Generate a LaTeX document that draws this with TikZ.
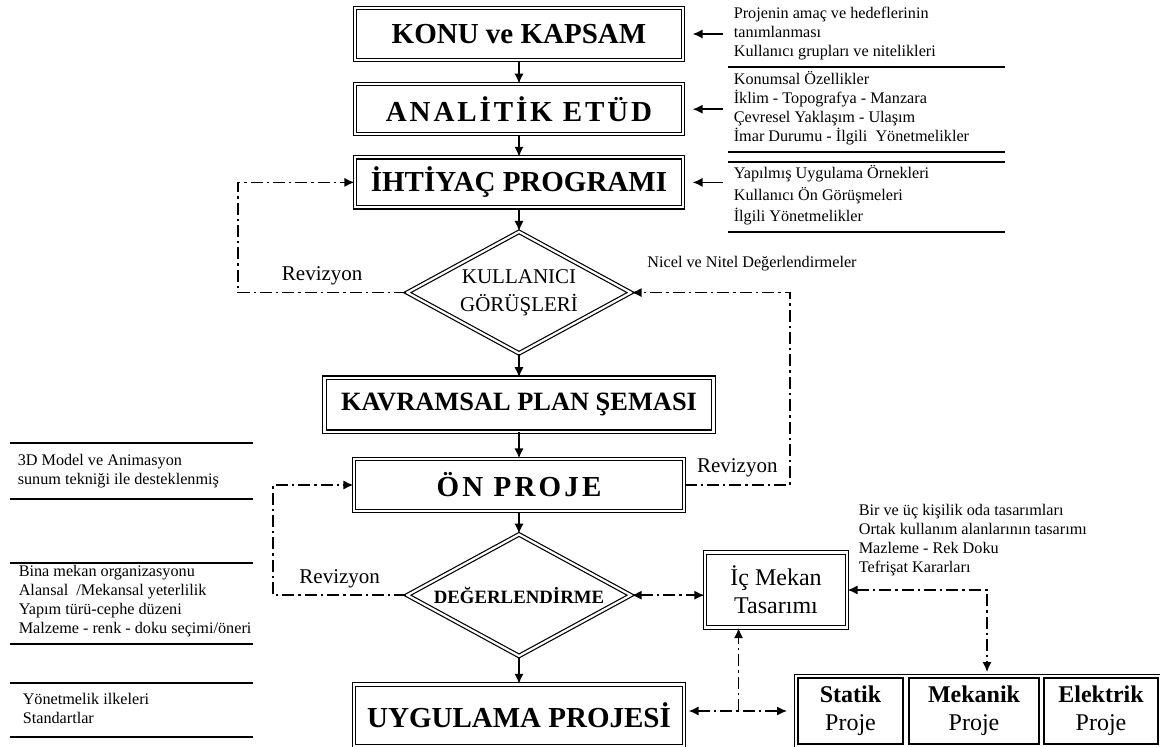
\documentclass[tikz,border=0pt]{standalone}
\usepackage{fontspec}
\setmainfont{Liberation Serif}
\usepackage{tikz}
\usetikzlibrary{shapes,arrows.meta}
\usetikzlibrary{positioning}
\tikzset{auto,>={Latex[length=5pt,width=4.6pt]}, node distance=1cm, font=\fontsize{8.1}{9.5}\selectfont}
\tikzstyle{stage} = [draw, double, double distance=1.1pt, line width=0.6pt, fill=white, rectangle, inner sep=0pt, text centered, align=center, minimum width=164pt, font=\fontsize{14.5}{16}\selectfont\bfseries]
\tikzstyle{decision} = [draw, double, double distance=1.1pt, line width=0.6pt, fill=white, diamond, aspect=1.85, inner sep=0pt, align=center, minimum width=112pt, minimum height=61pt, font=\fontsize{10.5}{14}\selectfont]
\tikzstyle{subbox} = [draw, line width=1pt, rectangle, inner sep=0pt, align=center, minimum height=33pt, font=\fontsize{12}{14}\selectfont]
\tikzstyle{note} = [inner sep=0pt, anchor=west, align=left]
\tikzstyle{tag} = [font=\fontsize{10.5}{12}\selectfont]
\tikzstyle{feedback} = [thick, dash pattern=on 6pt off 2pt on 1.2pt off 2pt]
\tikzstyle{rule} = [line width=0.6pt]

\begin{document}
\begin{tikzpicture}[x=0.5pt, y=-0.5pt, thick]
	\useasboundingbox (0,0) rectangle (1160,747);

	% main flow
	\node [stage, minimum height=26pt] at (519,34) (konu) {KONU ve KAPSAM};
	\node [stage, minimum height=25pt, below=11.5pt of konu] (analitik) {\addfontfeature{LetterSpace=10}ANALİTİK ETÜD};
	\node [stage, minimum height=25pt, below=11pt of analitik] (ihtiyac) {İHTİYAÇ PROGRAMI};
	\node [decision, below=11.5pt of ihtiyac] (kullanici) {KULLANICI\\GÖRÜŞLERİ};
	\node [stage, minimum width=194.5pt, minimum height=27pt, below=11.5pt of kullanici, font=\fontsize{13.2}{15}\selectfont\bfseries] (kavramsal) {KAVRAMSAL PLAN ŞEMASI};
	\node [stage, minimum width=165pt, minimum height=26pt, below=13pt of kavramsal] (onproje) {\addfontfeature{LetterSpace=11}ÖN PROJE};
	\node [decision, below=11pt of onproje, font=\fontsize{9.4}{11}\selectfont\bfseries] (degerlendirme) {DEĞERLENDİRME};
	\node [stage, minimum width=165pt, minimum height=31pt, below=13.5pt of degerlendirme] (uygulama) {UYGULAMA PROJESİ};

	% side boxes
	\node [stage, minimum width=71pt, minimum height=37.5pt, font=\fontsize{12}{14}\selectfont] at (776,590) (icmekan) {İç Mekan\\Tasarımı};
	\node [subbox, minimum width=52.5pt] at (850.5,711) (statik) {\textbf{Statik}\\Proje};
	\node [subbox, minimum width=65pt, right=2pt of statik] (mekanik) {\textbf{Mekanik}\\Proje};
	\node [subbox, minimum width=57pt, right=1.5pt of mekanik] (elektrik) {\textbf{Elektrik}\\Proje};

	% notes
	\node [note] at (733,34) (info1) {Projenin amaç ve hedeflerinin\\tanımlanması\\Kullanıcı grupları ve nitelikleri};
	\node [note] at (733,108) (info2) {Konumsal Özellikler\\İklim - Topografya - Manzara\\Çevresel Yaklaşım - Ulaşım\\İmar Durumu - İlgili~ Yönetmelikler};
	\node [note, font=\fontsize{8.1}{10.7}\selectfont] at (733,195.5) (info3) {Yapılmış Uygulama Örnekleri\\Kullanıcı Ön Görüşmeleri\\İlgili Yönetmelikler};
	\node [note] at (17,471) (model) {3D Model ve Animasyon\\sunum tekniği ile desteklenmiş};
	\node [note] at (18,601.5) (mekan) {Bina mekan organizasyonu\\Alansal~ /Mekansal yeterlilik\\Yapım türü-cephe düzeni\\Malzeme - renk - doku seçimi/öneri};
	\node [note] at (22,708) (yonet) {Yönetmelik ilkeleri\\Standartlar};
	\node [note] at (858,540) (odalar) {Bir ve üç kişilik oda tasarımları\\Ortak kullanım alanlarının tasarımı\\Mazleme - Rek Doku\\Tefrişat Kararları};

	\coordinate (lleft) at (238,0);
	\coordinate (lright) at (790,0);
	\coordinate (lleft2) at (273,0);
	\coordinate [xshift=6.5pt] (drop) at (mekanik.north);

	% rules
	\draw [rule] (728,67) -- (1005,67);
	\draw [rule] (728,152) -- (1005,152);
	\draw [rule] (728,162) -- (1005,162);
	\draw [rule] (728,232) -- (1005,232);
	\draw [rule] (10,443) -- (253,443);
	\draw [rule] (10,499) -- (253,499);
	\draw [rule] (10,563) -- (253,563);
	\draw [rule] (10,644) -- (253,644);
	\draw [rule] (10,683) -- (253,683);
	\draw [rule] (10,737) -- (253,737);
	\draw [line width=0.5pt] ([xshift=-1.5pt, yshift=1.5pt]statik.north west) rectangle ([xshift=1.5pt, yshift=-1.5pt]elektrik.south east);

	% flow arrows
	\draw [->] (konu) -- (analitik);
	\draw [->] (analitik) -- (ihtiyac);
	\draw [->] (ihtiyac) -- (kullanici);
	\draw [->] (kullanici) -- (kavramsal);
	\draw [->] (kavramsal) -- (onproje);
	\draw [->] (onproje) -- (degerlendirme);
	\draw [->] (degerlendirme) -- (uygulama);

	\draw [->, shorten <=5pt, shorten >=4.5pt] (info1.west |- konu.east) -- (konu.east);
	\draw [->, shorten <=5pt, shorten >=4.5pt] (info2.west |- analitik.east) -- (analitik.east);
	\draw [->, shorten <=5pt, shorten >=4.5pt] (info3.west |- ihtiyac.east) -- (ihtiyac.east);

	% revisions
	\draw [feedback, ->] (kullanici.west) -- node [above, tag] {Revizyon} (kullanici.west -| lleft) |- (ihtiyac.west);
	\draw [feedback, ->] (onproje.east) -- node [above, tag] {Revizyon} (onproje.east -| lright) |- node [pos=0.62, above=7pt] {Nicel ve Nitel Değerlendirmeler} (kullanici.east);
	\draw [feedback, ->] (degerlendirme.west) -- node [above, tag] {Revizyon} (degerlendirme.west -| lleft2) |- (onproje.west);

	\draw [feedback, <->] (degerlendirme.east) -- (icmekan.west |- degerlendirme.east);
	\draw [feedback, <->, shorten <=2pt, shorten >=5pt] (uygulama.east |- statik.west) -- node [coordinate, pos=0.48] (split) {} (statik.west);
	\draw [feedback, ->] (split) -- (split |- icmekan.south);
	\draw [feedback, <->, shorten >=2.5pt] (icmekan.east) -- (icmekan.east -| drop) -- (drop);
\end{tikzpicture}
\end{document}
